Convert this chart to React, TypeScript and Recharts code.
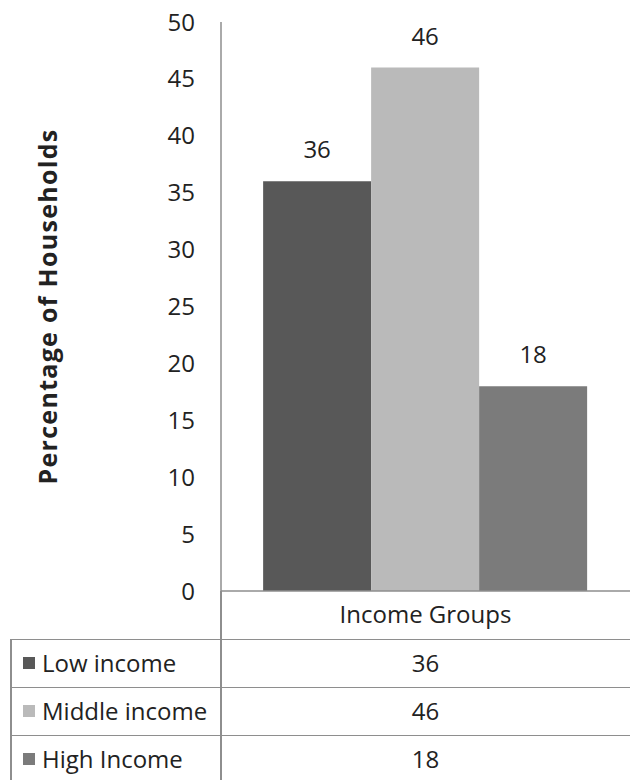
import React from 'react'
import { BarChart, Bar, XAxis, YAxis, LabelList } from 'recharts'

const categories = ['Income Groups']
const seriesNames = ['Low income', 'Middle income', 'High Income']
const seriesValues = [36, 46, 18]
const yTicks = [0, 5, 10, 15, 20, 25, 30, 35, 40, 45, 50]
const yTitle = 'Percentage of Households'

const seriesColors = ['#585858', '#bababa', '#7b7b7b']
const TEXT = '#222222'
const GRID = '#8e8e8e'

function YTitle({ viewBox }: any) {
    const cy = viewBox ? viewBox.y + viewBox.height / 2 : 306
    return (
        <text
            x={47}
            y={cy}
            transform={`rotate(-90 47 ${cy})`}
            textAnchor="middle"
            dominantBaseline="central"
            fontWeight={700}
            fontSize={25}
            letterSpacing={1.3}
            fill={TEXT}
        >
            {yTitle}
        </text>
    )
}

export default function App() {
    const data = categories.map((name) => {
        const row: any = { name }
        seriesNames.forEach((s, i) => (row[s] = seriesValues[i]))
        return row
    })

    return (
        <div
            style={{
                position: 'absolute',
                left: 0,
                top: 0,
                width: 630,
                height: 780,
                background: '#fff',
                fontFamily: '"Open Sans", sans-serif',
                color: TEXT,
                overflow: 'hidden',
            }}
        >
            <BarChart
                width={630}
                height={640}
                data={data}
                margin={{ top: 22, right: 0, bottom: 1, left: 0 }}
                barCategoryGap="10.3%"
                barGap={0}
            >
                <YAxis
                    width={221}
                    domain={[0, 50]}
                    ticks={yTicks}
                    interval={0}
                    tickLine={false}
                    tickSize={0}
                    tickMargin={26}
                    axisLine={{ stroke: GRID, strokeWidth: 1.5 }}
                    tick={{ fill: TEXT, fontSize: 24 }}
                    label={<YTitle />}
                />
                <XAxis
                    dataKey="name"
                    height={48}
                    tickLine={false}
                    tickSize={0}
                    tickMargin={15}
                    axisLine={{ stroke: GRID, strokeWidth: 1.5 }}
                    tick={{ fill: TEXT, fontSize: 24 }}
                />
                {seriesNames.map((s, i) => (
                    <Bar key={s} dataKey={s} fill={seriesColors[i]} isAnimationActive={false}>
                        <LabelList dataKey={s} position="top" offset={23} fill={TEXT} fontSize={24} />
                    </Bar>
                ))}
            </BarChart>

            {/* data table under the chart */}
            <div style={{ position: 'absolute', left: 220.25, top: 591, width: 1.5, height: 189, background: GRID }} />
            <div style={{ position: 'absolute', left: 10.25, top: 639, width: 1.5, height: 141, background: GRID }} />
            {seriesNames.map((s, i) => (
                <div
                    key={s}
                    style={{
                        position: 'absolute',
                        left: 11,
                        top: 639 + i * 48,
                        width: 619,
                        height: 48,
                        borderTop: `1.5px solid ${GRID}`,
                        boxSizing: 'border-box',
                        fontSize: 24,
                    }}
                >
                    <div style={{ position: 'absolute', left: 12, top: 0, height: 46, display: 'flex', alignItems: 'center' }}>
                        <span style={{ width: 12, height: 12, background: seriesColors[i], marginRight: 7, display: 'inline-block' }} />
                        <span style={{ lineHeight: '46px' }}>{s}</span>
                    </div>
                    <div
                        style={{
                            position: 'absolute',
                            left: 210,
                            width: 409,
                            top: 0,
                            height: 46,
                            lineHeight: '46px',
                            textAlign: 'center',
                        }}
                    >
                        {seriesValues[i]}
                    </div>
                </div>
            ))}
        </div>
    )
}
